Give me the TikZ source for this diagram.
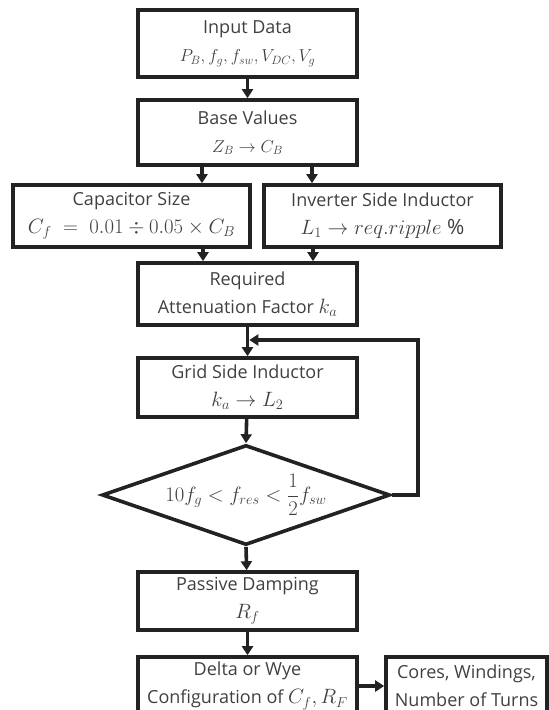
\documentclass[tikz,border=0pt]{standalone}
\usepackage{fontspec}
\setmainfont{Open Sans}
\usetikzlibrary{shapes.geometric,arrows.meta,calc}
\definecolor{linecol}{RGB}{34,34,34}
\definecolor{textcol}{RGB}{64,64,64}
\newcommand{\mymath}[2]{{\fontsize{#1}{28}\selectfont$#2$}}
\begin{document}
\begin{tikzpicture}[x=1pt,y=-1pt,
  box/.style={draw=linecol,line width=3.6pt,rectangle,inner sep=0pt,align=center,
    text=textcol,font=\fontsize{18}{28}\selectfont},
  arr/.style={draw=linecol,line width=3.6pt,-{Triangle[length=9pt,width=11pt]}},
  dia/.style={draw=linecol,line width=3.6pt,diamond,aspect=2.88,inner sep=0pt,
    minimum width=288pt,minimum height=100pt},
  lbl/.style={inner sep=0pt,text=textcol,font=\fontsize{18}{28}\selectfont}]
\useasboundingbox (0,0) rectangle (549,710);
\clip (0,0) rectangle (549,710);
\node[box,minimum width=219pt,minimum height=67pt] (in) at (247.5,43.5)
  {Input Data\\\mymath{18}{P_B, f_g, f_{sw}, V_{DC}, V_g}};
\node[box,minimum width=219pt,minimum height=65pt] (base) at (247.5,132.5)
  {Base Values\\\mymath{18}{Z_B \rightarrow C_B}};
\node[box,minimum width=237pt,minimum height=62pt] (cap) at (131.5,216)
  {Capacitor Size\\\mymath{21}{C_f \;=\; 0.01 \div 0.05 \times C_B}};
\node[box,minimum width=237pt,minimum height=62pt] (inv) at (382.5,216)
  {Inverter Side Inductor\\\mymath{21}{L_1 \rightarrow req.ripple\ \%}};
\node[box,minimum width=219pt,minimum height=62pt] (req) at (247.5,294)
  {Required\\Attenuation Factor \mymath{20}{k_a}};
\node[box,minimum width=219pt,minimum height=59pt] (grid) at (247.5,387.5)
  {Grid Side Inductor\\\mymath{20}{k_a \rightarrow L_2}};
\node[dia] (chk) at (246,495) {};
\node[lbl] (chkt) at (chk.center) {\mymath{19.5}{10f_g < f_{res} < \displaystyle\frac{1}{2} f_{sw}}};
\node[box,minimum width=219pt,minimum height=58pt] (pas) at (247.5,601)
  {Passive Damping\\\mymath{20}{R_f}};
\node[box,minimum width=219pt,minimum height=58pt] (del) at (247.5,686)
  {Delta or Wye\\Configuration of \mymath{20}{C_f,R_F}};
\node[box,minimum width=161pt,minimum height=58pt] (cor) at (466.5,686)
  {Cores, Windings,\\Number of Turns};
\coordinate (fb) at (418,340);
\draw[arr] (in) -- (base);
\draw[arr] ([xshift=-45.5pt]base.south) -- ([xshift=-45.5pt]base.south |- cap.north);
\draw[arr] ([xshift=64.5pt]base.south) -- ([xshift=64.5pt]base.south |- inv.north);
\draw[arr] ([xshift=-44.5pt]req.north |- cap.south) -- ([xshift=-44.5pt]req.north);
\draw[arr] ([xshift=65.5pt]req.north |- inv.south) -- ([xshift=65.5pt]req.north);
\draw[arr] (req) -- (grid);
\draw[arr] (grid) -- (chk.north);
\draw[arr] (chk.east) -| (fb) -- ([xshift=1.8pt]fb -| req.south);
\draw[arr] (chk.south) -- (pas);
\draw[arr] (pas) -- (del);
\draw[arr] (del) -- (cor);
\end{tikzpicture}
\end{document}
